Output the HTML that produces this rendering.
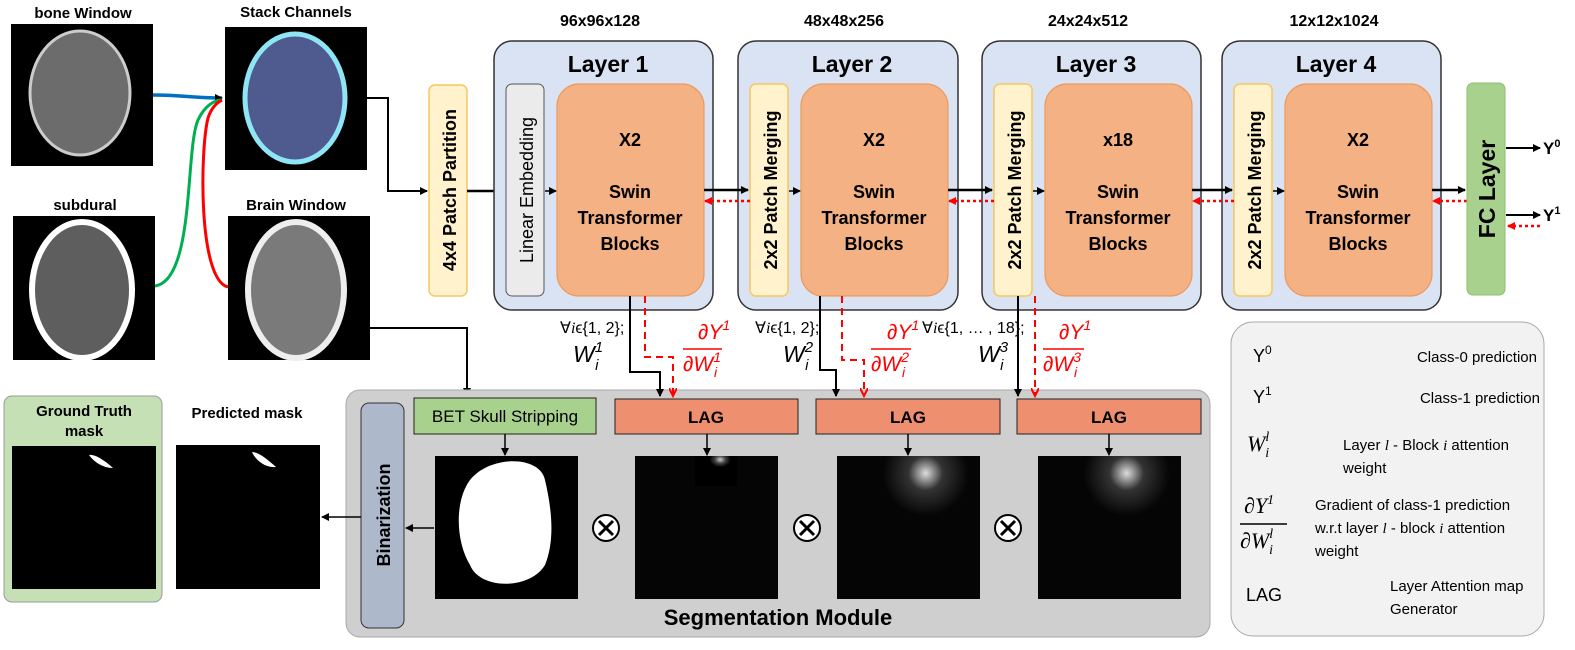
<!DOCTYPE html>
<html><head><meta charset="utf-8"><style>
html,body{margin:0;padding:0;background:#fff;width:1575px;height:650px;overflow:hidden}
text{font-family:"Liberation Sans",sans-serif}
.b{font-weight:bold}
.m{font-family:"Liberation Serif",serif;font-style:italic}
</style></head><body>
<svg width="1575" height="650" viewBox="0 0 1575 650" xmlns="http://www.w3.org/2000/svg">
<defs>
<marker id="ak" markerWidth="8" markerHeight="8" refX="7" refY="4" orient="auto" markerUnits="userSpaceOnUse"><path d="M0,0 L8,4 L0,8 z" fill="#000"/></marker>
<marker id="ar" markerWidth="8" markerHeight="8" refX="7" refY="4" orient="auto" markerUnits="userSpaceOnUse"><path d="M0,0 L8,4 L0,8 z" fill="#f00"/></marker>
<marker id="arv" markerWidth="10" markerHeight="8" refX="8" refY="4" orient="auto" markerUnits="userSpaceOnUse"><path d="M0,0 L8,4 L0,8" fill="none" stroke="#f00" stroke-width="2"/></marker>
<radialGradient id="att1" cx="0.6" cy="0.12" r="0.25"><stop offset="0" stop-color="#ccc"/><stop offset="0.5" stop-color="#444"/><stop offset="1" stop-color="#000"/></radialGradient>
<radialGradient id="att3" cx="0.62" cy="0.12" r="0.3"><stop offset="0" stop-color="#ddd"/><stop offset="0.4" stop-color="#333"/><stop offset="1" stop-color="#050505"/></radialGradient>
</defs>

<!-- top images -->
<text x="83" y="18" class="b" font-size="15" text-anchor="middle">bone Window</text>
<rect x="11" y="24" width="142" height="142" fill="#000"/>
<ellipse cx="80" cy="93" rx="50" ry="62" fill="#6c6c6c" stroke="#ccc" stroke-width="3"/>
<text x="296" y="17" class="b" font-size="15" text-anchor="middle">Stack Channels</text>
<rect x="225" y="27" width="142" height="143" fill="#000"/>
<ellipse cx="295" cy="98" rx="50" ry="64" fill="#4f5a8e" stroke="#8ee6f5" stroke-width="5"/>
<text x="85" y="210" class="b" font-size="15" text-anchor="middle">subdural</text>
<rect x="13" y="216" width="142" height="144" fill="#000"/>
<ellipse cx="82" cy="290" rx="50" ry="68" fill="#5e5e5e" stroke="#fff" stroke-width="6"/>
<text x="296" y="210" class="b" font-size="15" text-anchor="middle">Brain Window</text>
<rect x="228" y="216" width="142" height="144" fill="#000"/>
<ellipse cx="296" cy="290" rx="48" ry="68" fill="#7a7a7a" stroke="#eee" stroke-width="6"/>

<path d="M153,95 C185,95 190,98 222,98" stroke="#0070c0" stroke-width="3.5" fill="none" marker-end="url(#ak)"/>
<path d="M155,286 C195,280 185,150 198,120 C205,105 215,100 222,100" stroke="#00b050" stroke-width="3" fill="none"/>
<path d="M228,287 C198,280 200,150 208,118 C212,106 218,102 222,100" stroke="#f00" stroke-width="3" fill="none"/>

<path d="M367,98 L388,98 L388,191 L427,191" stroke="#000" stroke-width="2" fill="none" marker-end="url(#ak)"/>
<path d="M370,328 L467,328 L467,395" stroke="#000" stroke-width="2" fill="none" marker-end="url(#ak)"/>

<!-- patch partition -->
<rect x="429" y="85" width="38" height="211" rx="6" fill="#fff2cc" stroke="#f6c85f" stroke-width="1.5"/>
<text transform="translate(456,190) rotate(-90)" class="b" font-size="18" text-anchor="middle">4x4 Patch Partition</text>
<line x1="467" y1="191" x2="505" y2="191" stroke="#000" stroke-width="2.5" marker-end="url(#ak)"/>

<!-- dims -->
<g class="b" font-size="16" text-anchor="middle">
<text x="600" y="26">96x96x128</text><text x="844" y="26">48x48x256</text>
<text x="1088" y="26">24x24x512</text><text x="1334" y="26">12x12x1024</text></g>

<!-- layers -->
<g stroke="#333" stroke-width="1.5" fill="#dae3f3">
<rect x="494" y="41" width="219" height="269" rx="18"/>
<rect x="738" y="41" width="220" height="269" rx="18"/>
<rect x="982" y="41" width="219" height="269" rx="18"/>
<rect x="1222" y="41" width="219" height="269" rx="18"/>
</g>
<g class="b" font-size="23" text-anchor="middle">
<text x="608" y="72">Layer 1</text><text x="852" y="72">Layer 2</text>
<text x="1096" y="72">Layer 3</text><text x="1336" y="72">Layer 4</text></g>
<rect x="506" y="84" width="38" height="212" rx="6" fill="#ebebeb" stroke="#555" stroke-width="1"/>
<text transform="translate(533,190) rotate(-90)" font-size="18" text-anchor="middle">Linear Embedding</text>
<g fill="#fff2cc" stroke="#f6c85f" stroke-width="1.5">
<rect x="750" y="84" width="38" height="212" rx="6"/><rect x="994" y="84" width="38" height="212" rx="6"/><rect x="1234" y="84" width="38" height="212" rx="6"/></g>
<g class="b" font-size="18" text-anchor="middle">
<text transform="translate(777,190) rotate(-90)">2x2 Patch Merging</text>
<text transform="translate(1021,190) rotate(-90)">2x2 Patch Merging</text>
<text transform="translate(1261,190) rotate(-90)">2x2 Patch Merging</text></g>
<g fill="#f4b183" stroke="#ed9a5e" stroke-width="1.2">
<rect x="557" y="84" width="147" height="212" rx="22"/><rect x="801" y="84" width="147" height="212" rx="22"/>
<rect x="1045" y="84" width="147" height="212" rx="22"/><rect x="1285" y="84" width="147" height="212" rx="22"/></g>
<g class="b" font-size="18" text-anchor="middle">
<text x="630" y="146">X2</text><text x="630" y="198">Swin</text><text x="630" y="224">Transformer</text><text x="630" y="250">Blocks</text>
<text x="874" y="146">X2</text><text x="874" y="198">Swin</text><text x="874" y="224">Transformer</text><text x="874" y="250">Blocks</text>
<text x="1118" y="146">x18</text><text x="1118" y="198">Swin</text><text x="1118" y="224">Transformer</text><text x="1118" y="250">Blocks</text>
<text x="1358" y="146">X2</text><text x="1358" y="198">Swin</text><text x="1358" y="224">Transformer</text><text x="1358" y="250">Blocks</text></g>

<!-- small inner arrows -->
<g stroke="#000" stroke-width="1.5" marker-end="url(#ak)">
<line x1="545" y1="191" x2="556" y2="191"/><line x1="789" y1="191" x2="800" y2="191"/>
<line x1="1033" y1="191" x2="1044" y2="191"/><line x1="1273" y1="191" x2="1284" y2="191"/></g>
<g stroke="#000" stroke-width="2.5" marker-end="url(#ak)">
<line x1="704" y1="190" x2="748" y2="190"/><line x1="948" y1="190" x2="992" y2="190"/>
<line x1="1192" y1="190" x2="1232" y2="190"/><line x1="1432" y1="190" x2="1465" y2="190"/></g>
<g stroke="#f00" stroke-width="2.5" stroke-dasharray="3,3" marker-end="url(#ar)">
<line x1="750" y1="201" x2="705" y2="201"/><line x1="994" y1="201" x2="949" y2="201"/>
<line x1="1234" y1="201" x2="1193" y2="201"/><line x1="1467" y1="201" x2="1433" y2="201"/>
<line x1="1540" y1="226" x2="1508" y2="226"/></g>

<!-- FC -->
<rect x="1467" y="83" width="38" height="212" rx="6" fill="#a9d18e" stroke="#8cbf6c" stroke-width="1"/>
<text transform="translate(1495,189) rotate(-90)" class="b" font-size="23" text-anchor="middle">FC Layer</text>
<g stroke="#000" stroke-width="2" marker-end="url(#ak)">
<line x1="1506" y1="148" x2="1540" y2="148"/><line x1="1506" y1="215" x2="1540" y2="215"/></g>
<text x="1543" y="154" class="b" font-size="17">Y<tspan font-size="11" dy="-7">0</tspan></text>
<text x="1543" y="221" class="b" font-size="17">Y<tspan font-size="11" dy="-7">1</tspan></text>

<!-- seg module -->
<rect x="346" y="390" width="864" height="247" rx="14" fill="#cfcfcf" stroke="#aaa" stroke-width="1"/>
<rect x="361" y="403" width="43" height="225" rx="8" fill="#adb9ca" stroke="#333" stroke-width="1"/>
<text transform="translate(390,515) rotate(-90)" class="b" font-size="18" text-anchor="middle">Binarization</text>
<rect x="414" y="398" width="182" height="36" fill="#a9d18e" stroke="#222" stroke-width="1"/>
<text x="505" y="422" font-size="17" text-anchor="middle">BET Skull Stripping</text>
<g fill="#ee9070" stroke="#222" stroke-width="1">
<rect x="615" y="399" width="183" height="35"/><rect x="816" y="399" width="184" height="35"/><rect x="1017" y="399" width="184" height="35"/></g>
<g class="b" font-size="17" text-anchor="middle"><text x="706" y="423">LAG</text><text x="908" y="423">LAG</text><text x="1109" y="423">LAG</text></g>
<rect x="435" y="456" width="143" height="143" fill="#000"/>
<path d="M470,480 C490,455 540,455 545,480 C552,510 555,540 545,565 C530,590 480,590 470,565 C455,540 455,500 470,480 z" fill="#fff"/>
<rect x="635" y="456" width="143" height="143" fill="#050505"/>
<rect x="695" y="456" width="42" height="30" fill="url(#att1)"/>
<rect x="837" y="456" width="143" height="143" fill="url(#att3)"/>
<rect x="1038" y="456" width="143" height="143" fill="url(#att3)"/>
<g stroke="#000" stroke-width="1.5" marker-end="url(#ak)">
<line x1="505" y1="434" x2="505" y2="455"/><line x1="707" y1="434" x2="707" y2="455"/>
<line x1="908" y1="434" x2="908" y2="455"/><line x1="1109" y1="434" x2="1109" y2="455"/>
<line x1="434" y1="528" x2="406" y2="528"/><line x1="361" y1="517" x2="322" y2="517"/></g>
<g fill="#fff" stroke="#000" stroke-width="2">
<circle cx="606" cy="528" r="13"/><circle cx="807" cy="528" r="13"/><circle cx="1008" cy="528" r="13"/></g>
<g stroke="#000" stroke-width="3"><path d="M599,521 L613,535 M613,521 L599,535"/><path d="M800,521 L814,535 M814,521 L800,535"/><path d="M1001,521 L1015,535 M1015,521 L1001,535"/></g>
<text x="778" y="625" class="b" font-size="22" text-anchor="middle">Segmentation Module</text>

<!-- down connectors -->
<g stroke="#000" stroke-width="2" fill="none" marker-end="url(#ak)">
<path d="M630,296 L630,372 L660,372 L660,396"/>
<path d="M820,296 L820,370 L836,370 L836,396"/>
<path d="M1018,296 L1018,396"/></g>
<g stroke="#f00" stroke-width="2" fill="none" stroke-dasharray="7,5" marker-end="url(#arv)">
<path d="M645,296 L645,357 L673,357 L673,396"/>
<path d="M842,296 L842,360 L864,360 L864,396"/>
<path d="M1035,296 L1035,396"/></g>
<g font-size="16" fill="#000">
<text x="560" y="333">∀<tspan class="m">i</tspan>ϵ{1, 2};</text>
<text x="755" y="333">∀<tspan class="m">i</tspan>ϵ{1, 2};</text>
<text x="922" y="333">∀<tspan class="m">i</tspan>ϵ{1, … , 18};</text></g>
<g font-size="23" class="m">
<text x="573" y="362">W<tspan font-size="15" dy="-10">1</tspan><tspan font-size="15" dx="-8" dy="18">i</tspan></text>
<text x="783" y="362">W<tspan font-size="15" dy="-10">2</tspan><tspan font-size="15" dx="-8" dy="18">i</tspan></text>
<text x="978" y="362">W<tspan font-size="15" dy="-10">3</tspan><tspan font-size="15" dx="-8" dy="18">i</tspan></text></g>
<g fill="#f00" font-size="21" class="m">
<text x="698" y="339">∂Y<tspan font-size="14" dy="-9">1</tspan></text><line x1="683" y1="349" x2="722" y2="349" stroke="#f00" stroke-width="1.5"/>
<text x="683" y="371">∂W<tspan font-size="14" dy="-9">1</tspan><tspan font-size="14" dx="-7" dy="15">i</tspan></text>
<text x="887" y="339">∂Y<tspan font-size="14" dy="-9">1</tspan></text><line x1="871" y1="349" x2="911" y2="349" stroke="#f00" stroke-width="1.5"/>
<text x="871" y="371">∂W<tspan font-size="14" dy="-9">2</tspan><tspan font-size="14" dx="-7" dy="15">i</tspan></text>
<text x="1059" y="339">∂Y<tspan font-size="14" dy="-9">1</tspan></text><line x1="1043" y1="349" x2="1084" y2="349" stroke="#f00" stroke-width="1.5"/>
<text x="1043" y="371">∂W<tspan font-size="14" dy="-9">3</tspan><tspan font-size="14" dx="-7" dy="15">i</tspan></text></g>

<!-- GT / predicted -->
<rect x="4" y="396" width="158" height="206" rx="8" fill="#c5e0b4" stroke="#999" stroke-width="1"/>
<text x="84" y="416" class="b" font-size="15" text-anchor="middle">Ground Truth</text>
<text x="84" y="436" class="b" font-size="15" text-anchor="middle">mask</text>
<rect x="12" y="446" width="144" height="143" fill="#000"/>
<path d="M89,455 C95,454 104,460 113,468 C103,468 94,462 89,455 z" fill="#fff"/>
<text x="247" y="418" class="b" font-size="15" text-anchor="middle">Predicted mask</text>
<rect x="176" y="445" width="144" height="144" fill="#000"/>
<path d="M252,452 C258,452 266,458 276,467 C266,468 256,461 252,452 z" fill="#fff"/>

<!-- legend -->
<rect x="1231" y="322" width="313" height="314" rx="22" fill="#f2f2f2" stroke="#aaa" stroke-width="1"/>
<g font-size="15">
<text x="1253" y="362" font-size="18">Y<tspan font-size="12" dy="-8">0</tspan></text>
<text x="1537" y="362" text-anchor="end" font-size="15">Class-0 prediction</text>
<text x="1253" y="403" font-size="18">Y<tspan font-size="12" dy="-8">1</tspan></text>
<text x="1540" y="403" text-anchor="end" font-size="15">Class-1 prediction</text>
<text x="1247" y="451" class="m" font-size="22">W<tspan font-size="14" dy="-10">l</tspan><tspan font-size="14" dx="-4" dy="16">i</tspan></text>
<text x="1343" y="450" font-size="15">Layer <tspan class="m">l</tspan> - Block <tspan class="m">i</tspan> attention</text>
<text x="1343" y="473" font-size="15">weight</text>
<text x="1244" y="513" class="m" font-size="22">∂Y<tspan font-size="14" dy="-9">1</tspan></text>
<line x1="1240" y1="524" x2="1287" y2="524" stroke="#000" stroke-width="1.5"/>
<text x="1240" y="548" class="m" font-size="22">∂W<tspan font-size="14" dy="-10">l</tspan><tspan font-size="14" dx="-4" dy="16">i</tspan></text>
<text x="1315" y="510" font-size="15">Gradient of class-1 prediction</text>
<text x="1315" y="533" font-size="15">w.r.t layer <tspan class="m">l</tspan> - block <tspan class="m">i</tspan> attention</text>
<text x="1315" y="556" font-size="15">weight</text>
<text x="1246" y="601" font-size="18">LAG</text>
<text x="1390" y="591" font-size="15">Layer Attention map</text>
<text x="1390" y="614" font-size="15">Generator</text>
</g>
</svg>
</body></html>
